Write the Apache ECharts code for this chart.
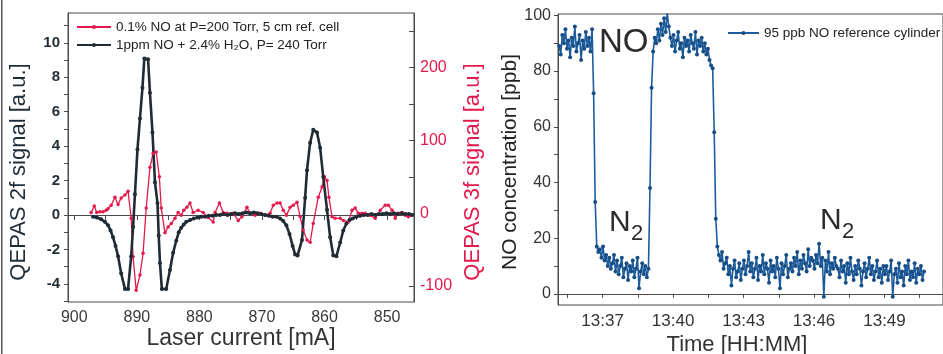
<!DOCTYPE html>
<html>
<head>
<meta charset="utf-8">
<script src="https://cdn.jsdelivr.net/npm/echarts@6/dist/echarts.min.js"></script>
<style>
html, body { margin: 0; padding: 0; background: #fff; }
#chart { width: 943px; height: 354px; }
</style>
</head>
<body>
<div id="chart"></div>
<script>
// left panel: 2f / 3f QEPAS scans vs laser current [mA]
const current2f = [
	897.0, 896.4, 895.7, 895.1, 894.6, 894.2, 893.8, 893.4, 893.0, 892.5,
	891.9, 891.4, 890.9, 890.6, 890.3, 889.9, 889.5, 889.1, 888.8, 888.2,
	887.9, 887.5, 887.1, 886.7, 886.5, 886.3, 886.0, 885.3, 884.7, 884.2,
	883.7, 883.3, 882.9, 882.5, 882.1, 881.5, 880.9, 880.3, 879.7, 879.1,
	878.5, 877.9, 877.3, 876.7, 876.1, 875.5, 874.9, 874.3, 873.7, 873.1,
	872.5, 871.9, 871.3, 870.7, 870.1, 869.5, 868.9, 868.3, 867.7, 867.1,
	866.6, 866.1, 865.6, 865.1, 864.7, 864.3, 863.6, 863.1, 862.8, 862.3,
	861.8, 861.2, 860.7, 860.2, 859.6, 859.1, 858.6, 858.1, 857.5, 857.0,
	856.5, 856.0, 855.5, 854.9, 854.3, 853.7, 853.1, 852.5, 851.9, 851.3,
	850.7, 850.1, 849.5, 848.9, 848.3, 847.7, 847.1, 846.5, 846.0
]
const signal2f = [
	-0.1, -0.15, -0.25, -0.4, -0.6, -0.9, -1.3, -1.8, -2.4, -3.4,
	-4.3, -4.3, -2.4, -0.7, 1.2, 3.8, 5.6, 7.4, 9.1, 9.05,
	7.1, 4.8, 1.9, 0.7, -1.2, -2.8, -4.3, -4.3, -3.2, -2.2,
	-1.5, -1.0, -0.75, -0.55, -0.4, -0.3, -0.2, -0.15, -0.1, -0.1,
	-0.05, -0.05, 0, 0, 0.05, 0, 0.05, 0.1, 0.05, 0.1,
	0.15, 0.1, 0.15, 0.1, 0.05, 0, -0.05, -0.1, -0.1, -0.2,
	-0.35, -0.6, -1.1, -1.8, -2.3, -2.35, -1.45, 1.0, 2.6, 4.2,
	4.95, 4.8, 3.9, 2.2, 0.3, -1.3, -2.35, -2.4, -1.6, -0.9,
	-0.5, -0.3, -0.2, -0.1, -0.05, 0, 0, 0.05, 0, 0.05,
	0.05, 0.1, 0.05, 0.1, 0.05, 0.1, 0.05, 0.05, 0
]
const current3f = [
	897.3, 896.8, 896.4, 895.9, 895.4, 894.9, 894.6, 894.1, 893.5, 893.0,
	892.5, 891.9, 891.4, 890.9, 890.6, 890.1, 889.5, 889.0, 888.5, 887.9,
	887.4, 886.9, 886.4, 886.1, 885.5, 885.0, 884.5, 883.9, 883.4, 882.9,
	882.5, 882.0, 881.5, 881.0, 880.2, 879.4, 878.6, 877.8, 877.5, 876.8,
	876.2, 875.6, 874.6, 873.8, 873.2, 872.4, 871.9, 871.1, 870.3, 869.5,
	868.7, 868.2, 867.6, 867.1, 866.6, 866.1, 865.5, 865.0, 864.4, 863.9,
	863.4, 862.8, 862.3, 861.8, 861.0, 860.4, 860.0, 859.6, 859.3, 858.8,
	858.3, 857.5, 857.0, 856.2, 855.6, 855.1, 854.6, 854.0, 853.5, 852.7,
	851.9, 851.1, 850.3, 849.8, 849.2, 848.7, 848.2, 847.6, 847.1, 846.6,
	846.0
]
const signal3f = [
	1, 10, 1, 2, 2, 4, 6, 11, 22, 12,
	21, 25, 30, -7, -60, -106, -85, -55, 7, 63,
	82, 84, 50, 7, -27, -19, -14, -7, 1, -3,
	4, 8, 14, 1, 4, 1, -6, -12, 1, 14,
	1, 0, 0, -10, -5, 8, 0, -3, 0, -3,
	0, 11, 14, 14, 4, -3, 8, 11, 15, -5,
	-23, -37, -40, -14, 22, 36, 50, 45, 22, -5,
	-7, -7, -10, -12, 4, 7, 0, 0, 0, -3,
	-7, 4, 11, 11, 4, -7, 0, 1, -3, -5,
	-3
]

// right panel: NO concentration [ppb], one reading every 4 s from 13:35.15
const timeStart = 35.15
const timeStep = 1 / 15
const noFirst = [89, 86, 93, 90, 95, 88, 91, 85, 92, 89, 96, 87, 90, 93, 84, 91, 88, 94, 89, 92, 87, 95]
const n2First = [
	72, 33, 17, 15, 16, 13, 17, 12, 14, 10, 13, 9, 11, 14, 8, 12, 7, 10,
	13, 6, 9, 11, 5, 10, 8, 12, 6, 9, 13, 2, 8, 11, 7, 10, 6, 9
]
const noSecond = [
	38, 74, 87, 92, 90, 95, 91, 97, 93, 99, 94, 101, 96, 92, 89, 93, 87, 91, 94, 88, 90,
	85, 92, 89, 91, 87, 93, 90, 88, 94, 86, 91, 89, 92, 87, 90, 86, 88, 84, 82, 81
]
const n2Second = [
	58, 27, 17, 14, 12, 15, 9, 11, 13, 7, 10, 3, 9, 12, 6, 8, 11, 5, 9,
	12, 7, 10, 15, 8, 11, 6, 9, 13, 5, 10, 8, 14, 7, 11, 9, 4, 12, 8, 10, 6, 13, 9, 2, 11, 7, 10, 14, 6, 9,
	11, 8, 13, 10, 15, 7, 12, 9, 14, 11, 8, 16, 10, 13, 12, 9, 14, 11, 18, 10, 13, -1, 12, 8, 15, 7, 11, 9, 13, 10,
	9, 6, 12, 8, 10, 4, 11, 7, 13, 8, 5, 10, 7, 12, 9, 3, 8, 11, 6, 9, 13, 7, 10, 5, 8, 12, 6, 9, 4, 10,
	7, 10, 5, 8, 12, -1, 7, 9, 4, 11, 6, 8, 3, 10, 7, 12, 5, 8, 6, 11, 4, 9, 7, 10, 5, 8
]

const xTicks2f = [850, 855, 860, 865, 870, 875, 880, 885, 890, 895, 900]
const xLabels2f = [850, 860, 870, 880, 890, 900]
const yLabels2f = [-4, -2, 0, 2, 4, 6, 8, 10]
const yTicks2f = [-5, -4, -3, -2, -1, 0, 1, 2, 3, 4, 5, 6, 7, 8, 9, 10, 11]
const yLabels3f = [-100, 0, 100, 200]
const yTicks3f = [-100, -50, 0, 50, 100, 150, 200, 250]
const yLabelsNo = [0, 20, 40, 60, 80, 100]
const yTicksNo = [0, 10, 20, 30, 40, 50, 60, 70, 80, 90, 100]
const timeLabels = [37, 40, 43, 46, 49]
const timeTicks = [35.5, 37, 38.5, 40, 41.5, 43, 44.5, 46, 47.5, 49, 50.5]

const name3f = '0.1% NO at P=200 Torr, 5 cm ref. cell'
const name2f = '1ppm NO + 2.4% H₂O, P= 240 Torr'
const nameNo = '95 ppb NO reference cylinder'

const FONT = '"Liberation Sans", Arial, sans-serif'
const DARK = '#1f2c36'
const RED = '#e3194b'
const BLUE = '#1d5c9c'
const AXIS = '#4a4a4a'

const pairs = (xs, ys) => xs.map((x, i) => [x, ys[i]])
const noData = []
let k = 0
for (const seg of [noFirst, n2First, noSecond, n2Second]) {
	for (const v of seg) {
		noData.push([timeStart + k * timeStep, v])
		k++
	}
}
const hhmm = v => '13:' + String(Math.round(v)).padStart(2, '0')

function baseAxis(gridIndex, extra) {
	return Object.assign({
		gridIndex,
		type: 'value',
		axisLine: { show: true, lineStyle: { color: AXIS, width: 1 } },
		axisTick: { show: true, length: 4, lineStyle: { color: AXIS } },
		splitLine: { show: false },
	}, extra)
}

function text(x, y, str, size, color, rotation, align) {
	return {
		type: 'text', x, y, rotation: rotation || 0, silent: true,
		style: {
			text: str, x: 0, y: 0, fill: color, font: size + 'px ' + FONT,
			textAlign: align || 'center', textVerticalAlign: 'middle',
		},
	}
}

const chart = echarts.init(document.getElementById('chart'))
chart.setOption({
	animation: false,
	backgroundColor: '#fff',
	textStyle: { fontFamily: FONT },
	grid: [
		{ left: 68, top: 13, width: 346, height: 289, show: true, borderColor: AXIS, borderWidth: 1 },
		{ left: 558, top: 14, width: 388, height: 291, show: true, borderColor: AXIS, borderWidth: 1 },
	],
	legend: [{
		data: [name3f, name2f],
		orient: 'vertical',
		left: 71, top: 15,
		itemWidth: 34, itemHeight: 5, itemGap: 4,
		textStyle: { fontSize: 13.5, color: '#222', fontFamily: FONT },
	}, {
		data: [nameNo],
		left: 722, top: 21,
		itemWidth: 31, itemHeight: 5,
		textStyle: { fontSize: 13.5, color: '#222', fontFamily: FONT },
	}],
	xAxis: [
		baseAxis(0, {
			inverse: true, min: 845.7, max: 901,
			axisTick: { show: true, length: 5, lineStyle: { color: AXIS }, customValues: xTicks2f },
			axisLabel: { customValues: xLabels2f, fontSize: 16, color: '#3a3a3a', margin: 8 },
		}),
		baseAxis(1, {
			min: 35.1, max: 51.49,
			axisTick: { show: true, length: 4, lineStyle: { color: AXIS }, customValues: timeTicks },
			axisLabel: { customValues: timeLabels, formatter: hhmm, fontSize: 17, color: '#333', margin: 8 },
		}),
	],
	yAxis: [
		baseAxis(0, {
			position: 'left', min: -5.06, max: 11.74,
			axisTick: { show: true, length: 4, lineStyle: { color: AXIS }, customValues: yTicks2f },
			axisLabel: { customValues: yLabels2f, fontSize: 15, fontWeight: 'bold', color: DARK, margin: 8 },
		}),
		baseAxis(0, {
			position: 'right', min: -122, max: 275,
			axisTick: { show: true, inside: true, length: 5, lineStyle: { color: AXIS }, customValues: yTicks3f },
			axisLabel: { customValues: yLabels3f, fontSize: 16, color: RED, margin: 6 },
		}),
		baseAxis(1, {
			position: 'left', min: -4, max: 100.5,
			axisTick: { show: true, length: 4, lineStyle: { color: AXIS }, customValues: yTicksNo },
			axisLabel: { customValues: yLabelsNo, fontSize: 16, color: '#333', margin: 7 },
		}),
	],
	series: [{
		name: name3f,
		type: 'line',
		xAxisIndex: 0, yAxisIndex: 1,
		data: pairs(current3f, signal3f),
		symbol: 'circle', symbolSize: 3.5,
		lineStyle: { color: RED, width: 1.3 },
		itemStyle: { color: RED },
	}, {
		name: name2f,
		type: 'line',
		xAxisIndex: 0, yAxisIndex: 0,
		data: pairs(current2f, signal2f),
		symbol: 'circle', symbolSize: 4,
		lineStyle: { color: DARK, width: 2.6 },
		itemStyle: { color: DARK },
	}, {
		name: nameNo,
		type: 'line',
		xAxisIndex: 1, yAxisIndex: 2,
		data: noData,
		symbol: 'circle', symbolSize: 4,
		lineStyle: { color: BLUE, width: 1.6 },
		itemStyle: { color: '#184e85' },
	}],
	graphic: [
		{ type: 'rect', silent: true, shape: { x: 1, y: 0, width: 1.5, height: 354 }, style: { fill: '#555' } },
		text(19, 172, 'QEPAS 2f signal [a.u.]', 22, DARK, Math.PI / 2),
		text(473, 172, 'QEPAS 3f signal [a.u.]', 22, RED, Math.PI / 2),
		text(241, 339, 'Laser current [mA]', 23, '#333'),
		text(510, 162, 'NO concentration [ppb]', 21, '#222', Math.PI / 2),
		text(737, 345, 'Time [HH:MM]', 22, '#333'),
		text(599, 43, 'NO', 33, '#2b2b2b', 0, 'left'),
		text(609, 223, 'N', 30, '#2b2b2b', 0, 'left'),
		text(631, 234, '2', 22, '#2b2b2b', 0, 'left'),
		text(820, 221, 'N', 30, '#2b2b2b', 0, 'left'),
		text(842, 232, '2', 22, '#2b2b2b', 0, 'left'),
	],
})
</script>
</body>
</html>
